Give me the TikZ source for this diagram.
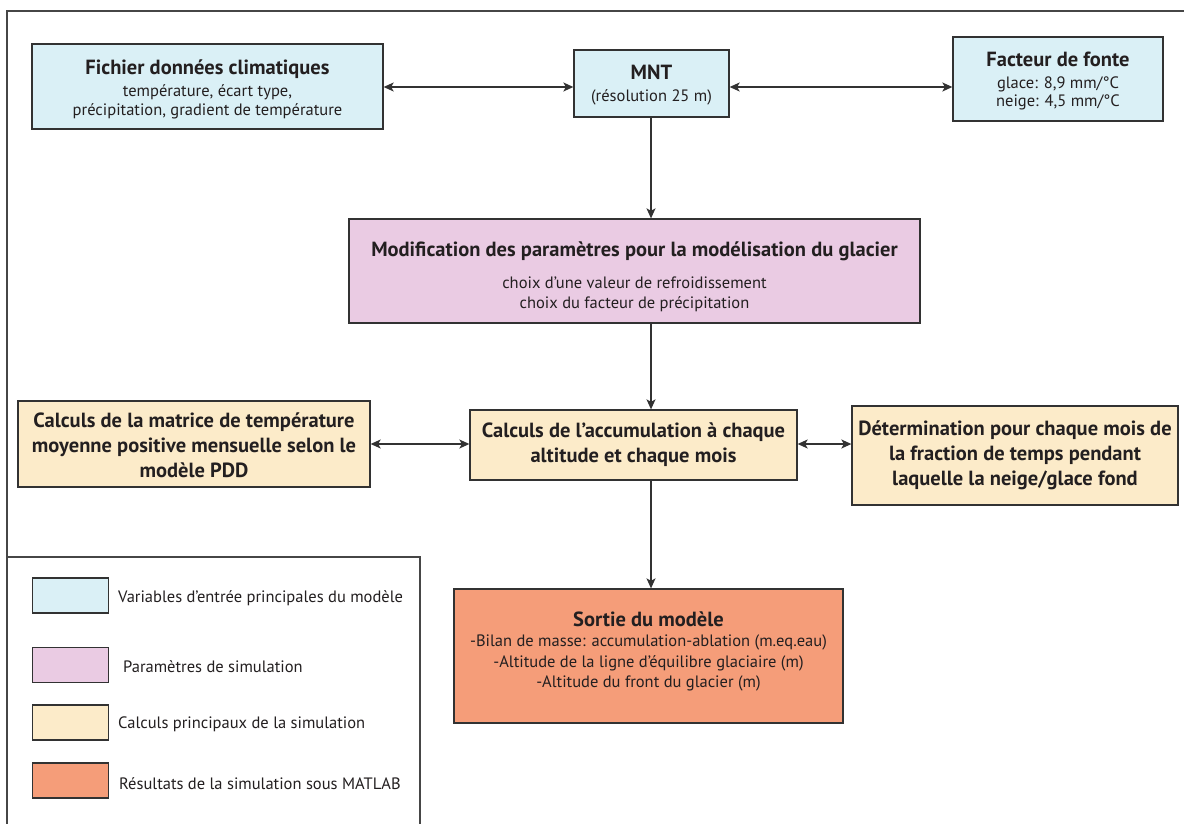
\documentclass[tikz,border=0pt]{standalone}
\usepackage{fontspec}
\setmainfont{PT Sans}
\usetikzlibrary{arrows.meta,calc}
\definecolor{cblue}{RGB}{218,240,246}
\definecolor{cpink}{RGB}{234,203,227}
\definecolor{ccream}{RGB}{252,235,201}
\definecolor{csalmon}{RGB}{245,157,121}
\definecolor{cline}{RGB}{50,50,50}
\definecolor{cframe}{RGB}{70,70,70}
\definecolor{ctext}{RGB}{35,31,32}
\newcommand{\bodyfont}{\fontsize{16.5}{19}\selectfont}
\newcommand{\titlefont}{\fontsize{20.5}{22}\selectfont\bfseries}
\begin{document}
\begin{tikzpicture}[x=1pt,y=-1pt,
  box/.style={draw=cline, line width=1.3pt, align=center, inner sep=0pt, text=ctext},
  bluebox/.style={box, fill=cblue},
  pinkbox/.style={box, fill=cpink},
  creambox/.style={box, fill=ccream, font=\fontsize{20.5}{25}\selectfont\bfseries},
  salmonbox/.style={box, fill=csalmon},
  swatch/.style={draw=cline, line width=1.3pt, minimum width=76pt, minimum height=35pt, inner sep=0pt},
  legtext/.style={anchor=west, font=\bodyfont, text=ctext, inner sep=0pt},
  conn/.style={draw=cline, line width=1.3pt},
  tip/.style={-{Stealth[length=10pt,width=9pt,inset=2.5pt]}},
  dtip/.style={{Stealth[length=10pt,width=9pt,inset=2.5pt]}-{Stealth[length=10pt,width=9pt,inset=2.5pt]}}
]
\useasboundingbox (0,0) rectangle (1184,824);
\fill[white] (0,0) rectangle (1184,824);

% frame
\draw[cframe, line width=1.5pt] (1190,11) -- (7,11) -- (7,830);
\draw[cframe, line width=1.5pt] (7,557) -- (420,557) -- (420,830);

% top row
\node[bluebox, minimum width=351pt, minimum height=85pt, font=\bodyfont] (fichier) at (207.5,86.5)
  {{\titlefont\rule{0pt}{20pt}Fichier données climatiques}\\[3pt] température, écart type,\\ précipitation, gradient de température};
\node[bluebox, minimum width=155pt, minimum height=67pt, font=\bodyfont] (mnt) at (651.5,83.5)
  {{\titlefont\rule{0pt}{17.5pt}MNT}\\[3pt] (résolution 25 m)};
\node[bluebox, minimum width=210pt, minimum height=84pt, font=\fontsize{16.5}{18}\selectfont] (facteur) at (1058,79)
  {{\titlefont\rule{0pt}{18.5pt}Facteur de fonte}\\[4pt] glace: 8,9 mm/°C\\ neige: 4,5 mm/°C};

% modification
\node[pinkbox, minimum width=571pt, minimum height=104pt, font=\fontsize{16.5}{20}\selectfont] (modif) at (634.5,271)
  {{\titlefont\rule{0pt}{26pt}Modification des paramètres pour la modélisation du glacier}\\[12pt] choix d’une valeur de refroidissement\\ choix du facteur de précipitation};

% middle row
\node[creambox, minimum width=352pt, minimum height=86pt] (matrice) at (194,444)
  {\rule{0pt}{18pt}Calculs de la matrice de température\\ moyenne positive mensuelle selon le\\ modèle PDD};
\node[creambox, minimum width=327pt, minimum height=70pt] (accum) at (633.5,445)
  {Calculs de l’accumulation à chaque\\ altitude et chaque mois};
\node[creambox, minimum width=326pt, minimum height=99pt] (determ) at (1015,455.5)
  {Détermination pour chaque mois de\\ la fraction de temps pendant\\ laquelle la neige/glace fond};

% output
\node[salmonbox, minimum width=389pt, minimum height=134pt, font=\fontsize{16.5}{20.5}\selectfont] (sortie) at (648.5,656)
  {{\titlefont Sortie du modèle}\\[0pt] -Bilan de masse: accumulation-ablation (m.eq.eau)\\ -Altitude de la ligne d’équilibre glaciaire (m)\\ -Altitude du front du glacier (m)\\[-8pt] \mbox{}};

% connectors
\draw[conn, dtip] (fichier.east |- 0,87) -- (mnt.west |- 0,87);
\draw[conn, dtip] (mnt.east |- 0,87) -- (facteur.west |- 0,87);
\draw[conn, tip] (mnt.south -| 651,0) -- (modif.north -| 651,0);
\draw[conn, tip] (modif.south -| 651,0) -- (accum.north -| 651,0);
\draw[conn, tip] (accum.south -| 651,0) -- (sortie.north -| 651,0);
\draw[conn, dtip] (matrice.east |- 0,444) -- (accum.west |- 0,444);
\draw[conn, dtip] (accum.east |- 0,444) -- (determ.west |- 0,444);

% legend
\node[swatch, fill=cblue] (sw1) at (70.5,595.5) {};
\node[swatch, fill=cpink] (sw2) at (70.5,665) {};
\node[swatch, fill=ccream] (sw3) at (70.5,722.5) {};
\node[swatch, fill=csalmon] (sw4) at (70.5,780.5) {};
\node[legtext] (lt1) at (118,598) {Variables d’entrée principales du modèle};
\node[legtext] (lt2) at (123,667) {Paramètres de simulation};
\node[legtext] (lt3) at (118,724) {Calculs principaux de la simulation};
\node[legtext] (lt4) at (119,784) {Résultats de la simulation sous MATLAB};
\end{tikzpicture}
\end{document}
